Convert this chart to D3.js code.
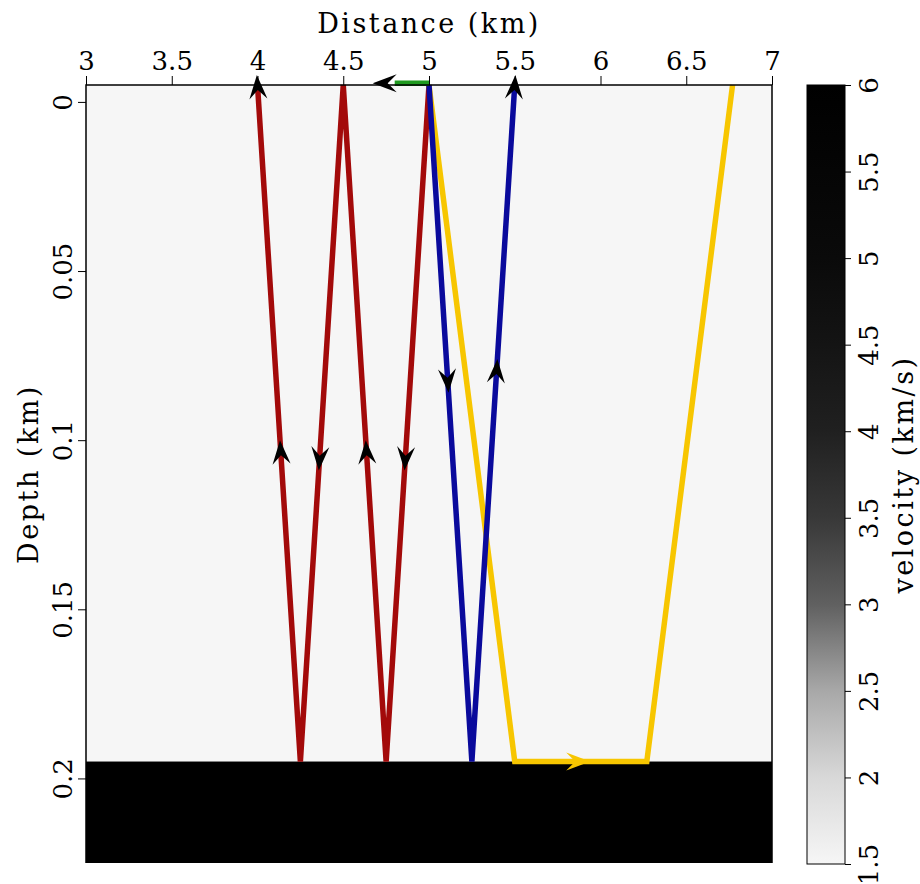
<!DOCTYPE html>
<html>
<head>
<meta charset="utf-8">
<script src="https://cdn.jsdelivr.net/npm/d3@7"></script>
<style>
  body { margin: 0; background: white; }
  text { font-family: "DejaVu Serif", serif; fill: black; }
</style>
</head>
<body>
<svg id="chart" width="920" height="884"></svg>
<script>
// axis ticks
const xTicks = [3, 3.5, 4, 4.5, 5, 5.5, 6, 6.5, 7];
const yTicks = [0, 0.05, 0.1, 0.15, 0.2];
const velTicks = [1.5, 2, 2.5, 3, 3.5, 4, 4.5, 5, 5.5, 6];

// model: two layers (top depth, velocity)
const layerTop = [-0.005, 0.195];
const layerVel = [1.5, 6];
const modelBottom = 0.225;

// grey ramp of the colour bar (velocity -> grey level)
const rampVel = [1.5, 2, 2.5, 3, 3.5, 4, 4.5, 5, 6];
const rampGrey = [246, 216, 168, 96, 56, 32, 20, 10, 0];

// rays (x in km, z in km)
const redX = [5.0, 4.75, 4.5, 4.25, 4.0];
const redZ = [-0.005, 0.195, -0.005, 0.195, -0.005];
const blueX = [5.0, 5.25, 5.5];
const blueZ = [-0.005, 0.195, -0.005];
const yellowX = [5.0, 5.5, 6.27, 6.77];
const yellowZ = [-0.005, 0.195, 0.195, -0.005];
const greenX = [5.0, 4.8];
const greenZ = [-0.0055, -0.0055];

// arrowheads along rays: segment index and depth (or x for flat segments) of the tip
const redArrowSeg = [0, 1, 2, 3];
const redArrowZ = [0.109, 0.1, 0.109, 0.1];
const blueArrowSeg = [0, 1];
const blueArrowZ = [0.086, 0.076];
const yellowArrowSeg = [1];
const yellowArrowX = [5.94];

const MARGIN = { left: 86, top: 85, right: 148, bottom: 21 };
const W = 920, H = 884;

const svg = d3.select("#chart");

const x = d3.scaleLinear().domain([3, 7]).range([MARGIN.left, W - MARGIN.right]);
const y = d3.scaleLinear().domain([-0.005, modelBottom]).range([MARGIN.top, H - MARGIN.bottom]);

const grey = d3.scaleLinear().domain(rampVel).range(rampGrey);
const velColor = v => { const g = Math.round(grey(v)); return `rgb(${g},${g},${g})`; };

// model layers
const layers = layerTop.map((t, i) => ({ top: t, bottom: i < layerTop.length - 1 ? layerTop[i + 1] : modelBottom, vel: layerVel[i] }));
svg.append("g").selectAll("rect")
  .data(layers)
  .join("rect")
  .attr("x", x(3))
  .attr("width", x(7) - x(3))
  .attr("y", d => y(d.top))
  .attr("height", d => y(d.bottom) - y(d.top))
  .attr("fill", d => velColor(d.vel));

// rays
const line = d3.line().x(d => x(d[0])).y(d => y(d[1]));
const rays = [
  { xs: redX, zs: redZ, color: "#a30a0a" },
  { xs: yellowX, zs: yellowZ, color: "#f7c600" },
  { xs: blueX, zs: blueZ, color: "#0a0a9c" },
  { xs: greenX, zs: greenZ, color: "#1f9a1f" }
];
svg.append("g").selectAll("path")
  .data(rays)
  .join("path")
  .attr("d", d => line(d.xs.map((v, i) => [v, d.zs[i]])))
  .attr("fill", "none")
  .attr("stroke", d => d.color)
  .attr("stroke-width", 5.5)
  .attr("stroke-linejoin", "miter");

// arrowhead shape, tip at origin pointing +x
const head = "M0,0 L-24,-9 L-15,0 L-24,9 Z";
const arrows = [];
function segArrow(xs, zs, seg, zt, color) {
  const x0 = xs[seg], z0 = zs[seg], x1 = xs[seg + 1], z1 = zs[seg + 1];
  const t = (zt - z0) / (z1 - z0);
  const px = x(x0 + t * (x1 - x0)), py = y(zt);
  const ang = Math.atan2(y(z1) - y(z0), x(x1) - x(x0)) * 180 / Math.PI;
  arrows.push({ px, py, ang, color });
}
function flatArrow(xs, zs, seg, xt, color) {
  const x0 = xs[seg], x1 = xs[seg + 1];
  const ang = x1 > x0 ? 0 : 180;
  arrows.push({ px: x(xt), py: y(zs[seg]), ang, color });
}
function endArrow(xs, zs, color, off) {
  const n = xs.length;
  const ax = x(xs[n - 2]), ay = y(zs[n - 2]), bx = x(xs[n - 1]), by = y(zs[n - 1]);
  const a = Math.atan2(by - ay, bx - ax);
  arrows.push({ px: bx + off * Math.cos(a), py: by + off * Math.sin(a), ang: a * 180 / Math.PI, color });
}
redArrowSeg.forEach((s, i) => segArrow(redX, redZ, s, redArrowZ[i], "black"));
blueArrowSeg.forEach((s, i) => segArrow(blueX, blueZ, s, blueArrowZ[i], "black"));
yellowArrowSeg.forEach((s, i) => flatArrow(yellowX, yellowZ, s, yellowArrowX[i], "#f7c600"));
endArrow(redX, redZ, "black", 10);
endArrow(blueX, blueZ, "black", 10);
endArrow(greenX, greenZ, "black", 22);

// frame (top, left, right)
svg.append("path")
  .attr("d", `M${x(3)},${y(0.225)} V${y(-0.005)} H${x(7)} V${y(0.225)}`)
  .attr("fill", "none")
  .attr("stroke", "black")
  .attr("stroke-width", 1.5);

svg.append("g").selectAll("path")
  .data(arrows)
  .join("path")
  .attr("d", head)
  .attr("transform", d => `translate(${d.px},${d.py}) rotate(${d.ang})`)
  .attr("fill", d => d.color);

// top axis
const xAxis = svg.append("g")
  .attr("transform", `translate(0,${MARGIN.top})`)
  .call(d3.axisTop(x).tickValues(xTicks).tickFormat(d3.format("")).tickSize(9).tickPadding(6));
xAxis.select(".domain").remove();
xAxis.selectAll("text").attr("font-size", 26).attr("font-family", "DejaVu Serif");

svg.append("text")
  .attr("x", (x(3) + x(7)) / 2)
  .attr("y", 33)
  .attr("text-anchor", "middle")
  .attr("font-size", 27)
  .attr("letter-spacing", 2.5)
  .text("Distance (km)");

// left axis
const yAxis = svg.append("g")
  .attr("transform", `translate(${MARGIN.left},0)`)
  .call(d3.axisLeft(y).tickValues(yTicks).tickFormat(d3.format("")).tickSize(8).tickSizeOuter(0));
yAxis.select(".domain").remove();
yAxis.selectAll("text")
  .attr("font-size", 26)
  .attr("font-family", "DejaVu Serif")
  .attr("x", null).attr("dy", null)
  .attr("text-anchor", "middle")
  .attr("transform", "translate(-14,0) rotate(-90)");

svg.append("text")
  .attr("transform", `translate(38,${(y(-0.005) + y(modelBottom)) / 2}) rotate(-90)`)
  .attr("text-anchor", "middle")
  .attr("font-size", 27)
  .attr("letter-spacing", 2.5)
  .text("Depth (km)");

// colour bar
const cbX = 807, cbW = 38;
const cy = d3.scaleLinear().domain([1.5, 6]).range([864, 85]);
const grad = svg.append("defs").append("linearGradient")
  .attr("id", "velgrad")
  .attr("x1", 0).attr("y1", 1).attr("x2", 0).attr("y2", 0);
grad.selectAll("stop")
  .data(rampVel)
  .join("stop")
  .attr("offset", d => (d - 1.5) / 4.5)
  .attr("stop-color", d => velColor(d));

svg.append("rect")
  .attr("x", cbX).attr("y", cy(6))
  .attr("width", cbW).attr("height", cy(1.5) - cy(6))
  .attr("fill", "url(#velgrad)")
  .attr("stroke", "black")
  .attr("stroke-width", 1);

const cAxis = svg.append("g")
  .attr("transform", `translate(${cbX + cbW},0)`)
  .call(d3.axisRight(cy).tickValues(velTicks).tickFormat(d3.format("")).tickSize(6).tickSizeOuter(0));
cAxis.select(".domain").remove();
cAxis.selectAll("text")
  .attr("font-size", 26)
  .attr("font-family", "DejaVu Serif")
  .attr("x", null).attr("dy", null)
  .attr("text-anchor", "middle")
  .attr("transform", "translate(33,0) rotate(-90)");

svg.append("text")
  .attr("transform", `translate(913,${(cy(1.5) + cy(6)) / 2}) rotate(-90)`)
  .attr("text-anchor", "middle")
  .attr("font-size", 27)
  .attr("letter-spacing", 2.5)
  .text("velocity (km/s)");
</script>
</body>
</html>
